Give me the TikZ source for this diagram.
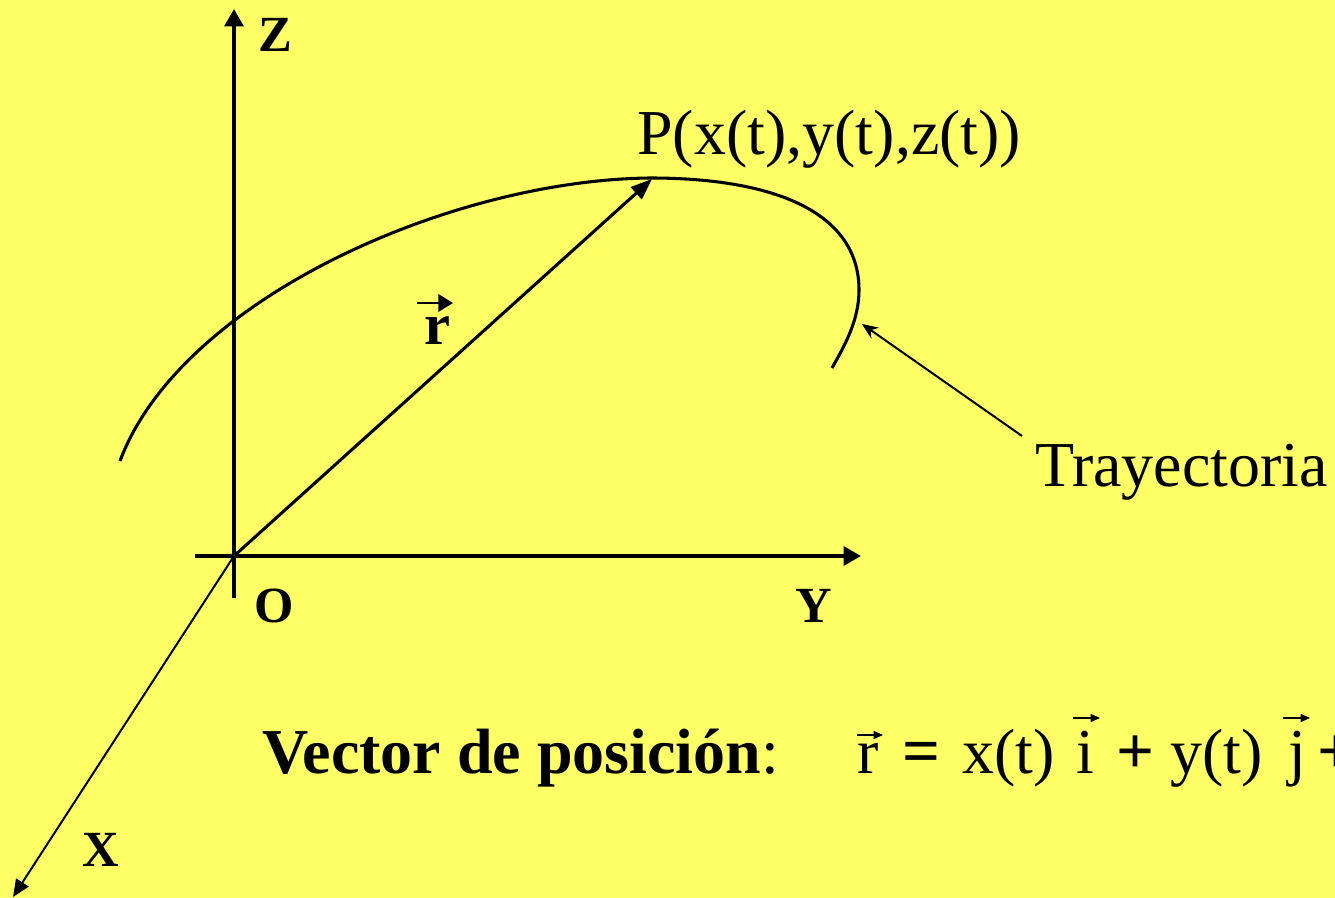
\documentclass[tikz,border=0pt]{standalone}
\usepackage{fontspec}
\setmainfont{Liberation Serif}
\usetikzlibrary{arrows.meta}
\definecolor{bg}{RGB}{255,255,102}
\begin{document}
\begin{tikzpicture}[x=0.75pt,y=-0.75pt,
  axis/.style={line width=3pt,-{Triangle[length=13pt,width=14pt]}},
  thinaxis/.style={line width=1.5pt,-{Triangle[length=13pt,width=11pt]}},
  posvec/.style={line width=2.3pt,-{Triangle[length=16pt,width=12pt]}},
  pointer/.style={line width=1.5pt,-{Stealth[length=12pt,width=10pt,inset=4pt]}},
  vecmark/.style={line width=1pt,-{Triangle[length=7pt,width=6pt]}},
  curve/.style={line width=2.3pt},
  axislabel/.style={font=\fontsize{38}{40}\selectfont\bfseries,anchor=base west,inner sep=0pt},
  bigtext/.style={font=\fontsize{48}{52}\selectfont,anchor=base west,inner sep=0pt},
  opsym/.style={font=\fontsize{50}{52}\selectfont\bfseries,anchor=base west,inner sep=0pt}]
\fill[bg] (0,0) rectangle (1335,898);
\useasboundingbox (0,0) rectangle (1335,898);
\clip (0,0) rectangle (1335,898);

\coordinate (O) at (234,556);
\coordinate (zb) at (234,598);
\coordinate (zt) at (234,9);
\coordinate (yl) at (195,556);
\coordinate (yt) at (861,556);
\coordinate (xt) at (13,897);
\coordinate (P) at (652,179);
\coordinate (tr) at (862,324);
\coordinate (trs) at (1022,436);

% trajectory
\draw[curve] (120,461) .. controls (180,300) and (450,180) .. (650,178)
  .. controls (780,178) and (859,215) .. (859,290)
  .. controls (859,320) and (845,345) .. (832,368);

% axes
\draw[axis] (zb) -- (zt);
\draw[axis] (yl) -- (yt);
\draw[thinaxis] (O) -- (xt);
\draw[posvec] (O) -- (P);
\draw[pointer] (trs) -- (tr);

% labels
\node[axislabel] (zlab) at (258,52) {Z};
\node[axislabel] (olab) at (254,622) {O};
\node[axislabel] (ylab) at (795,622) {Y};
\node[axislabel] (xlab) at (82,866) {X};
\node[font=\fontsize{44}{46}\selectfont\bfseries,anchor=base west,inner sep=0pt] (rlab) at (424,345) {r};
\coordinate (ra1) at (417,303);
\coordinate (ra2) at (453,303);
\draw[line width=2pt,-{Triangle[length=11pt,width=13pt]}] (ra1) -- (ra2);

\node[bigtext] (plab) at (637,155) {P(x(t),y(t),z(t))};
\node[bigtext] (tlab) at (1035,486) {Trayectoria};
\node[bigtext] (vlab) at (262,773) {\textbf{Vector de posición}:};

% equation pieces
\node[bigtext] (er) at (857,773) {r};
\node[opsym] (eeq) at (902,773) {=};
\node[bigtext] (ex) at (962,773) {x(t)};
\node[bigtext] (ei) at (1076,773) {i};
\node[opsym] (ep1) at (1116,773) {+};
\node[bigtext] (ey) at (1170,773) {y(t)};
\node[bigtext] (ej) at (1288,773) {j};
\node[opsym] (ep2) at (1317,773) {+};
\coordinate (rv1) at (857,735); \coordinate (rv2) at (883,735);
\coordinate (iv1) at (1073,718); \coordinate (iv2) at (1100,718);
\coordinate (jv1) at (1283,718); \coordinate (jv2) at (1310,718);
\draw[vecmark] (rv1) -- (rv2);
\draw[vecmark] (iv1) -- (iv2);
\draw[vecmark] (jv1) -- (jv2);
\end{tikzpicture}
\end{document}
